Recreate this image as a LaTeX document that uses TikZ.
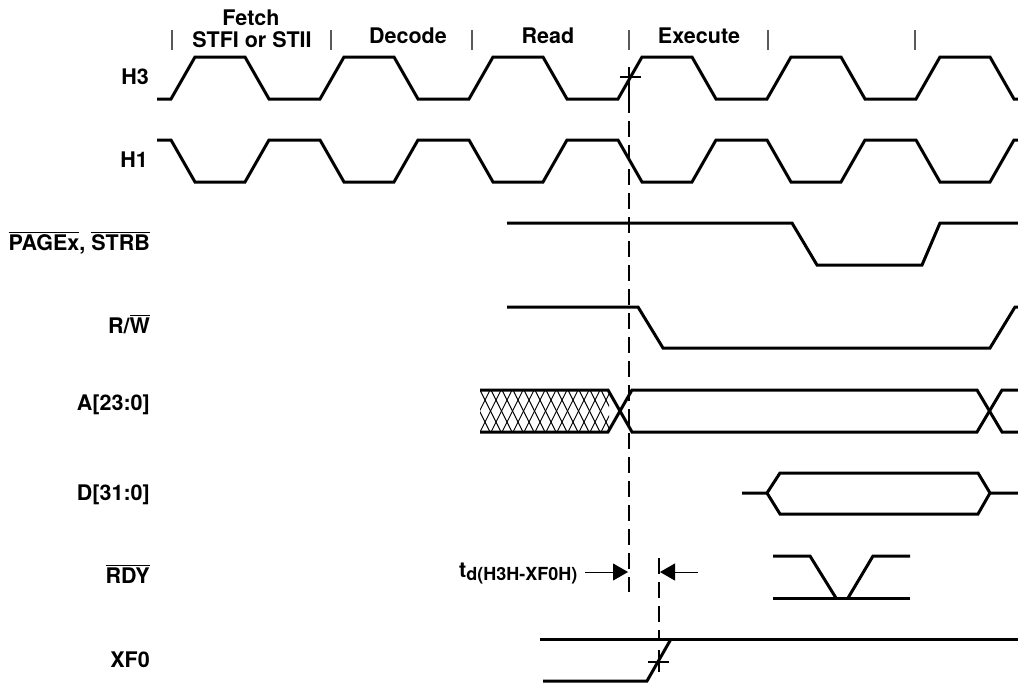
\documentclass[tikz,border=0pt]{standalone}
\usepackage{fontspec}
\setmainfont{TeX Gyre Heros}
\usetikzlibrary{arrows.meta}
\newcommand\ovl[1]{\setbox0\hbox{#1}\rlap{\rule[16.6pt]{\wd0}{1.7pt}}\box0}
\begin{document}
\begin{tikzpicture}[x=1pt,y=-1pt,
  sig/.style={line width=3pt, line join=miter, line cap=butt},
  lbl/.style={font=\fontsize{21.5}{25}\selectfont\bfseries, inner sep=0pt},
  phasetick/.style={line width=1.5pt, black!65},
  guide/.style={line width=1.3pt, dash pattern=on 16pt off 8pt},
  thinln/.style={line width=1.2pt},
  hatch/.style={line width=0.9pt},
  dimarrow/.style={line width=1pt, -{Triangle[length=15pt,width=17pt]}}]
\fill[white] (0,0) rectangle (1018,683);
\useasboundingbox (0,0) rectangle (1018,683);

% phase labels and ticks
\foreach \x in {172,331,472,629,768,915}{\draw[phasetick] (\x,30) -- (\x,50);}
\node[lbl, anchor=base] (fetch) at (251,25) {Fetch};
\node[lbl, anchor=base] (stfi) at (252,47) {STFI or STII};
\node[lbl, anchor=base] (decode) at (408,43) {Decode};
\node[lbl, anchor=base] (read) at (548,43) {Read};
\node[lbl, anchor=base] (execute) at (699,43) {Execute};

% signal names
\node[lbl, anchor=base east] (nH3) at (149,84) {H3};
\node[lbl, anchor=base east] (nH1) at (148,167) {H1};
\node[lbl, anchor=base east] (nPG) at (150,250) {\ovl{PAGEx}, \ovl{STRB}};
\node[lbl, anchor=base east] (nRW) at (150,333) {R/\ovl{W}};
\node[lbl, anchor=base east] (nA) at (150,410) {A[23:0]};
\node[lbl, anchor=base east] (nD) at (150,500) {D[31:0]};
\node[lbl, anchor=base east] (nRDY) at (150,583) {\ovl{RDY}};
\node[lbl, anchor=base east] (nXF) at (150,667) {XF0};

% H3
\draw[sig] (157,99) \foreach \k in {0,...,5}{
  -- ({171+149*\k},99) -- ({195+149*\k},57) -- ({245+149*\k},57) -- ({269+149*\k},99)}
  -- (1018,99);
% H1
\draw[sig] (157,140) \foreach \k in {0,...,5}{
  -- ({171+149*\k},140) -- ({195+149*\k},182) -- ({245+149*\k},182) -- ({269+149*\k},140)}
  -- (1018,140);

% PAGEx, STRB
\draw[sig] (507,223) -- (792,223) -- (817,265) -- (922,265) -- (940,223) -- (1018,223);
% R/W
\draw[sig] (507,307) -- (638,307) -- (663,348) -- (990,348) -- (1015,307) -- (1018,307);

% A[23:0]
\begin{scope}
  \clip (480,390) rectangle (609,432);
  \foreach \i in {-2,...,12}{
    \draw[hatch] ({480+11*\i},390) -- ({501+11*\i},432);
    \draw[hatch] ({501+11*\i},390) -- ({480+11*\i},432);
  }
\end{scope}
\draw[sig] (480,390) -- (608,390) -- (632,432) -- (977,432) -- (1002,390) -- (1018,390);
\draw[sig] (480,432) -- (608,432) -- (632,390) -- (977,390) -- (1002,432) -- (1018,432);

% D[31:0]
\draw[sig] (742,493) -- (767,493) -- (780,473) -- (978,473) -- (990,493) -- (1018,493);
\draw[sig] (767,493) -- (780,514) -- (978,514) -- (990,493);

% RDY
\draw[sig] (773,556) -- (810,556) -- (836,598);
\draw[sig] (773,598) -- (910,598);
\draw[sig] (848,598) -- (873,556) -- (910,556);

% XF0
\draw[sig] (540,639) -- (1018,639);
\draw[sig] (543,681) -- (647,681) -- (671,639);

% reference lines and crosses
\coordinate (g1top) at (629,67);
\coordinate (g1mid) at (629,97);
\coordinate (g1bot) at (629,592);
\draw[thinln] (g1top) -- (g1mid);
\draw[guide] (g1mid) -- (g1bot);
\draw[thinln] (620,77) -- (641,77);
\coordinate (g2top) at (659,558);
\coordinate (g2bot) at (659,639);
\draw[guide] (g2top) -- (g2bot);
\draw[thinln] (648,662) -- (669,662);
\draw[thinln] (659,650) -- (659,672);

% timing parameter
\node[lbl, anchor=base west] (td) at (459,577) {t\raisebox{-3pt}{\fontsize{18}{18}\selectfont d(H3H-XF0H)}};
\coordinate (a1s) at (585,572);
\coordinate (a1e) at (628,572);
\coordinate (a2s) at (698,572);
\coordinate (a2e) at (660,572);
\draw[dimarrow] (a1s) -- (a1e);
\draw[dimarrow] (a2s) -- (a2e);
\end{tikzpicture}
\end{document}
